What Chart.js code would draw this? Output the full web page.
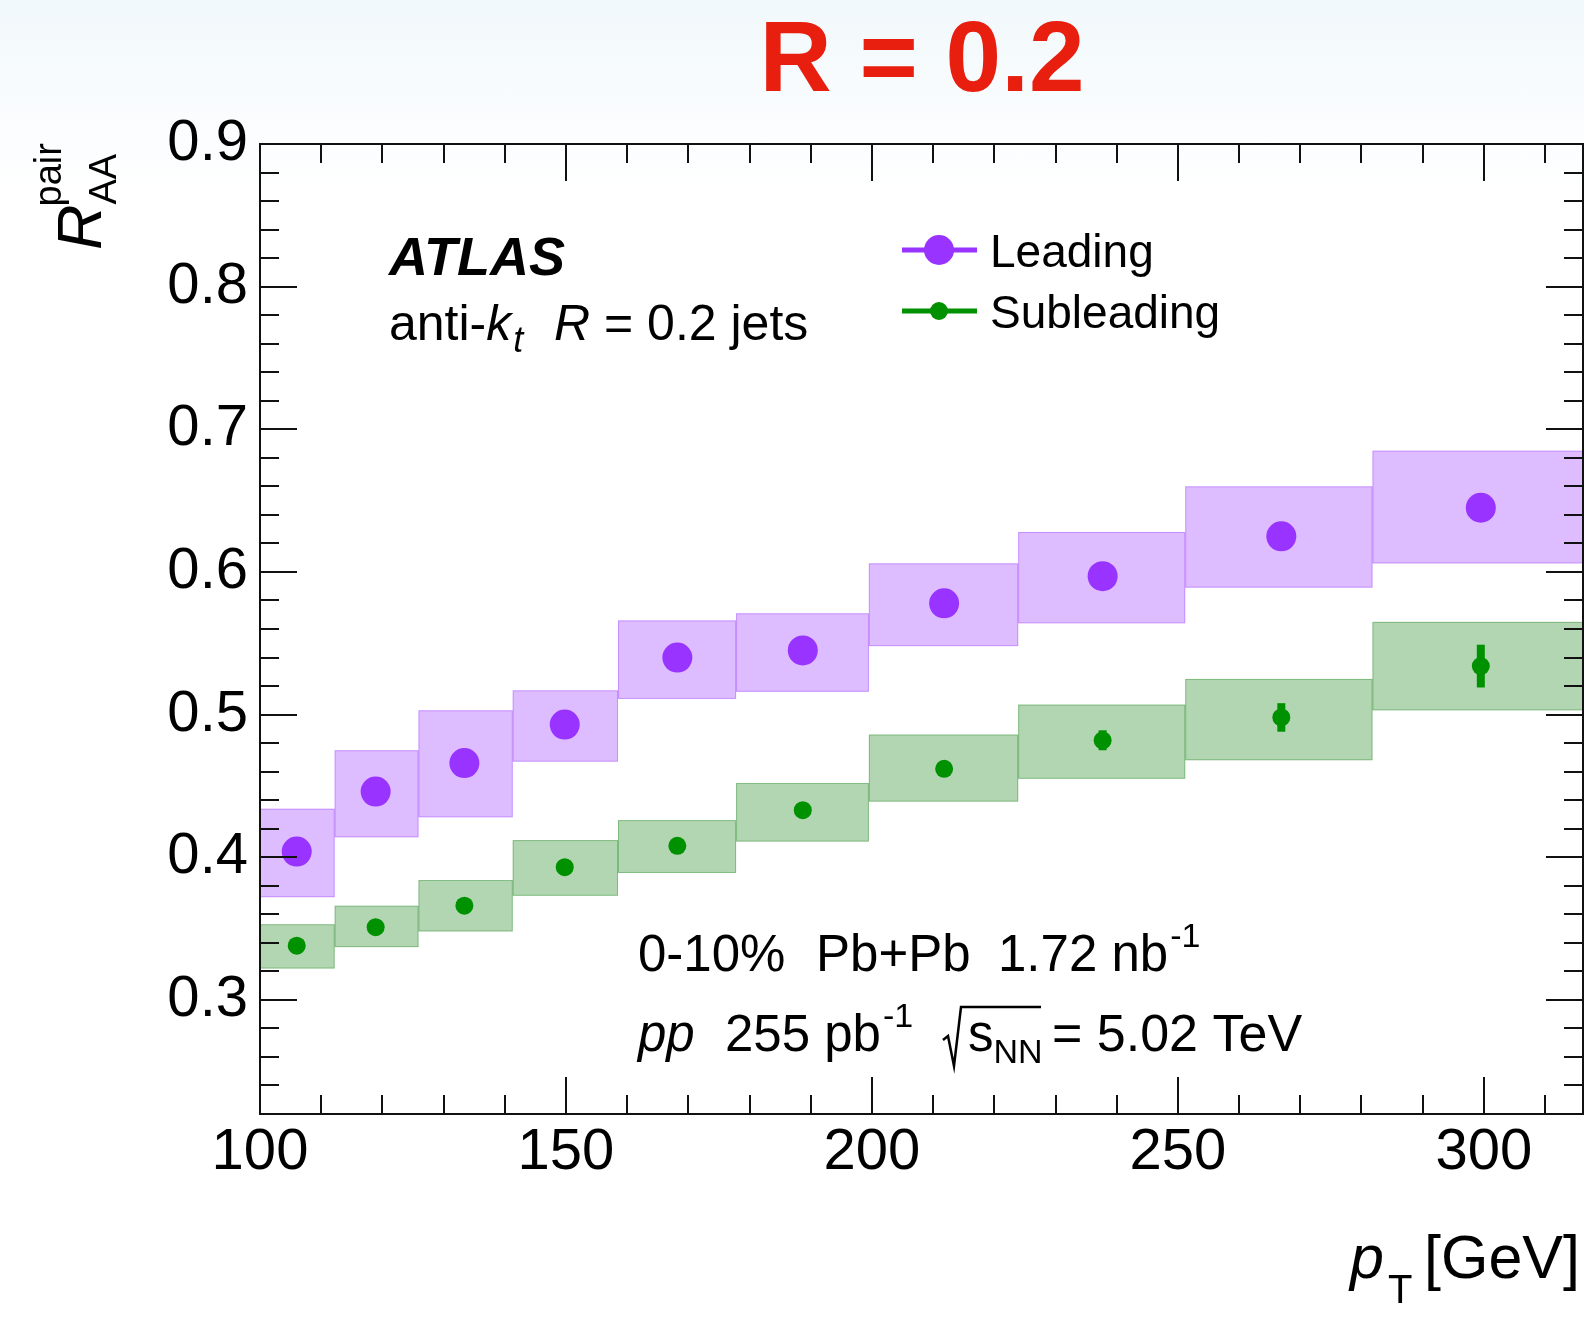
<!DOCTYPE html>
<html>
<head>
<meta charset="utf-8">
<script src="https://cdn.jsdelivr.net/npm/chart.js@4.4.0/dist/chart.umd.min.js"></script>
<style>
  html, body { margin: 0; padding: 0; overflow: hidden; }
  body { background: linear-gradient(to bottom, #f1f8fb 0px, #fbfdfe 130px, #ffffff 200px); }
  #wrap { width: 1584px; height: 1322px; position: relative; }
  #chartCanvas { display: block; }
</style>
</head>
<body>
<div id="wrap"><canvas id="chartCanvas"></canvas></div>
<script>
// pT bins [GeV] and the point positions inside them
const binEdges = [100, 112.2, 125.9, 141.3, 158.5, 177.8, 199.5, 223.9, 251.2, 281.8, 316.2];
const ptCenters = [106.0, 118.9, 133.4, 149.8, 168.2, 188.7, 211.8, 237.7, 266.9, 299.5];

// Leading jets
const leading = [0.404, 0.446, 0.466, 0.493, 0.540, 0.545, 0.578, 0.597, 0.625, 0.645];
const leadingStat = [0.003, 0.003, 0.003, 0.003, 0.004, 0.004, 0.004, 0.005, 0.006, 0.008];
const leadingSysLo = [0.372, 0.414, 0.428, 0.467, 0.511, 0.516, 0.548, 0.564, 0.589, 0.606];
const leadingSysHi = [0.434, 0.475, 0.503, 0.517, 0.566, 0.571, 0.606, 0.628, 0.660, 0.685];

// Subleading jets
const subleading = [0.338, 0.351, 0.366, 0.393, 0.408, 0.433, 0.462, 0.482, 0.498, 0.534];
const subleadingStat = [0.003, 0.003, 0.003, 0.003, 0.004, 0.004, 0.005, 0.007, 0.010, 0.015];
const subleadingSysLo = [0.322, 0.337, 0.348, 0.373, 0.389, 0.411, 0.439, 0.455, 0.468, 0.503];
const subleadingSysHi = [0.353, 0.366, 0.384, 0.412, 0.426, 0.452, 0.486, 0.507, 0.525, 0.565];

const xTickValues = [100, 150, 200, 250, 300];
const yTickValues = [0.3, 0.4, 0.5, 0.6, 0.7, 0.8, 0.9];

const FONT = '"Liberation Sans", Arial, Helvetica, sans-serif';
const purple = 'rgb(153, 51, 255)';
const purpleBox = 'rgba(153, 51, 255, 0.33)';
const green = 'rgb(0, 145, 0)';
const greenBox = 'rgba(0, 120, 0, 0.30)';

function txt(ctx, s, x, y, size, style) {
  ctx.font = (style || '') + ' ' + size + 'px ' + FONT;
  ctx.fillText(s, x, y);
  return x + ctx.measureText(s).width;
}

const atlasPlugin = {
  id: 'atlas',
  beforeDatasetsDraw(chart) {
    const ctx = chart.ctx;
    const xs = chart.scales.x, ys = chart.scales.y;
    const a = chart.chartArea;

    // systematic boxes
    const drawBoxes = (lo, hi, fill) => {
      for (let i = 0; i < lo.length; i++) {
        const x0 = xs.getPixelForValue(binEdges[i]);
        const x1 = xs.getPixelForValue(binEdges[i + 1]);
        const y0 = ys.getPixelForValue(hi[i]);
        const y1 = ys.getPixelForValue(lo[i]);
        ctx.fillStyle = fill;
        ctx.fillRect(x0, y0, x1 - x0, y1 - y0);
        ctx.strokeStyle = fill;
        ctx.lineWidth = 1;
        ctx.strokeRect(x0 + 0.5, y0 + 0.5, x1 - x0 - 1, y1 - y0 - 1);
      }
    };
    // statistical error bars
    const drawBars = (vals, errs, color) => {
      ctx.strokeStyle = color;
      ctx.lineWidth = 8;
      for (let i = 0; i < vals.length; i++) {
        const px = xs.getPixelForValue(ptCenters[i]);
        ctx.beginPath();
        ctx.moveTo(px, ys.getPixelForValue(vals[i] - errs[i]));
        ctx.lineTo(px, ys.getPixelForValue(vals[i] + errs[i]));
        ctx.stroke();
      }
    };

    ctx.save();
    ctx.beginPath();
    ctx.rect(a.left, a.top, a.right - a.left, a.bottom - a.top);
    ctx.clip();
    drawBoxes(leadingSysLo, leadingSysHi, purpleBox);
    drawBoxes(subleadingSysLo, subleadingSysHi, greenBox);
    drawBars(leading, leadingStat, purple);
    drawBars(subleading, subleadingStat, green);
    ctx.restore();
  },
  afterDraw(chart) {
    const ctx = chart.ctx;
    const xs = chart.scales.x, ys = chart.scales.y;
    const a = chart.chartArea;
    ctx.save();

    // --- frame and inward ticks on all four sides ---
    ctx.strokeStyle = '#111';
    ctx.lineWidth = 2;
    ctx.strokeRect(a.left, a.top, a.right - a.left, a.bottom - a.top);
    ctx.beginPath();
    for (let v = 100; v <= 316; v += 10) {
      const px = Math.round(xs.getPixelForValue(v));
      const len = v % 50 === 0 ? 37 : 19;
      ctx.moveTo(px, a.bottom); ctx.lineTo(px, a.bottom - len);
      ctx.moveTo(px, a.top); ctx.lineTo(px, a.top + len);
    }
    for (let k = 11; k <= 45; k++) {
      const py = Math.round(ys.getPixelForValue(k * 0.02));
      const len = k % 5 === 0 ? 37 : 19;
      ctx.moveTo(a.left, py); ctx.lineTo(a.left + len, py);
      ctx.moveTo(a.right, py); ctx.lineTo(a.right - len, py);
    }
    ctx.stroke();

    ctx.fillStyle = '#000';
    ctx.textBaseline = 'alphabetic';
    ctx.textAlign = 'left';

    // --- title ---
    ctx.fillStyle = '#e81e0e';
    ctx.textAlign = 'center';
    txt(ctx, 'R = 0.2', 922, 91, 100, 'bold');
    ctx.textAlign = 'left';
    ctx.fillStyle = '#000';

    // --- ATLAS label ---
    txt(ctx, 'ATLAS', 389, 275, 54, 'italic bold');
    let x = txt(ctx, 'anti-', 389, 340, 50);
    x = txt(ctx, 'k', x, 340, 50, 'italic');
    txt(ctx, 't', x + 2, 352, 36, 'italic');
    x = txt(ctx, 'R', 554, 340, 50, 'italic');
    txt(ctx, '= 0.2 jets', 604, 340, 50);

    // --- legend ---
    const legend = [
      { label: 'Leading', y: 250, color: purple, r: 15 },
      { label: 'Subleading', y: 311, color: green, r: 9 }
    ];
    legend.forEach(item => {
      ctx.strokeStyle = item.color;
      ctx.lineWidth = 5;
      ctx.beginPath();
      ctx.moveTo(902, item.y); ctx.lineTo(977, item.y);
      ctx.stroke();
      ctx.fillStyle = item.color;
      ctx.beginPath();
      ctx.arc(939, item.y, item.r, 0, Math.PI * 2);
      ctx.fill();
      ctx.fillStyle = '#000';
      txt(ctx, item.label, 990, item.y + 17, 46);
    });

    // --- dataset info ---
    txt(ctx, '0-10%', 638, 971, 51);
    txt(ctx, 'Pb+Pb', 816, 971, 51);
    x = txt(ctx, '1.72 nb', 998, 971, 51);
    txt(ctx, '-1', x + 2, 947, 34);

    txt(ctx, 'pp', 638, 1051, 51, 'italic');
    x = txt(ctx, '255 pb', 725, 1051, 51);
    txt(ctx, '-1', x + 2, 1027, 34);
    // square root sign with overbar
    ctx.strokeStyle = '#000';
    ctx.lineWidth = 2.5;
    ctx.beginPath();
    ctx.moveTo(943, 1040); ctx.lineTo(948, 1036); ctx.lineTo(954, 1066);
    ctx.lineTo(961, 1007); ctx.lineTo(1041, 1007);
    ctx.stroke();
    x = txt(ctx, 's', 968, 1051, 51);
    x = txt(ctx, 'NN', x, 1063, 34);
    txt(ctx, '= 5.02 TeV', 1052, 1051, 52);

    // --- axis titles ---
    txt(ctx, 'p', 1350, 1278, 61, 'italic');
    txt(ctx, 'T', 1388, 1303, 40);
    txt(ctx, '[GeV]', 1424, 1278, 61);

    ctx.translate(101, 250);
    ctx.rotate(-Math.PI / 2);
    x = txt(ctx, 'R', 0, 0, 63, 'italic');
    txt(ctx, 'pair', x - 2, -40, 38);
    txt(ctx, 'AA', x, 15, 38);

    ctx.restore();
  }
};

const ctx = document.getElementById('chartCanvas').getContext('2d');
window.chart = new Chart(ctx, {
  type: 'scatter',
  data: {
    datasets: [
      {
        label: 'Leading',
        data: ptCenters.map((p, i) => ({ x: p, y: leading[i] })),
        backgroundColor: purple,
        borderWidth: 0,
        pointRadius: 15,
        pointHoverRadius: 15
      },
      {
        label: 'Subleading',
        data: ptCenters.map((p, i) => ({ x: p, y: subleading[i] })),
        backgroundColor: green,
        borderWidth: 0,
        pointRadius: 9,
        pointHoverRadius: 9
      }
    ]
  },
  options: {
    responsive: true,
    maintainAspectRatio: false,
    animation: false,
    events: [],
    layout: { autoPadding: false, padding: { top: 144, right: 1, left: 0, bottom: 0 } },
    plugins: {
      legend: { display: false },
      tooltip: { enabled: false },
      title: { display: false }
    },
    scales: {
      x: {
        type: 'linear',
        min: 100,
        max: 316.2,
        grid: { display: false, drawTicks: false },
        border: { display: false },
        afterBuildTicks: scale => { scale.ticks = xTickValues.map(v => ({ value: v })); },
        afterFit: scale => {
          scale.height = 208;
          scale.paddingLeft = 0;
          scale.paddingRight = 0;
        },
        ticks: {
          color: '#000',
          padding: 4,
          maxRotation: 0,
          font: { family: FONT, size: 58 }
        }
      },
      y: {
        type: 'linear',
        min: 0.22,
        max: 0.9,
        grid: { display: false, drawTicks: false },
        border: { display: false },
        afterBuildTicks: scale => { scale.ticks = yTickValues.map(v => ({ value: v })); },
        afterFit: scale => {
          scale.width = 260;
          scale.paddingTop = 0;
          scale.paddingBottom = 0;
        },
        ticks: {
          color: '#000',
          padding: 12,
          font: { family: FONT, size: 58 },
          callback: v => v.toFixed(1)
        }
      }
    }
  },
  plugins: [atlasPlugin]
});
</script>
</body>
</html>
